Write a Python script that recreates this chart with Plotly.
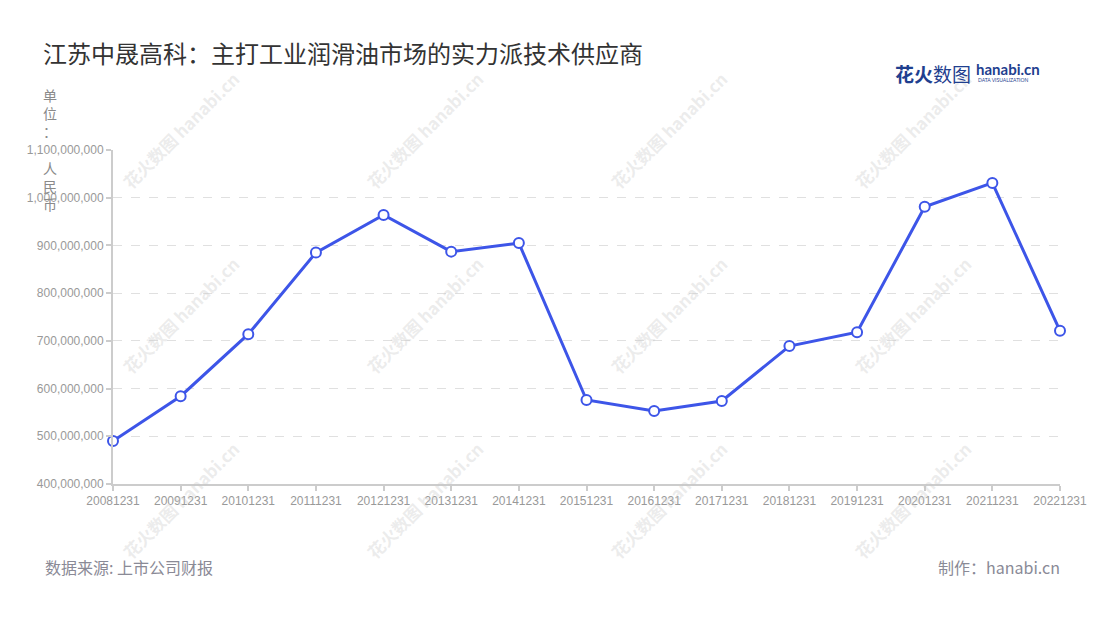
import plotly.graph_objects as go

title = "江苏中晟高科：主打工业润滑油市场的实力派技术供应商"
dates = ["20081231", "20091231", "20101231", "20111231", "20121231", "20131231",
         "20141231", "20151231", "20161231", "20171231", "20181231", "20191231",
         "20201231", "20211231", "20221231"]
values = [490e6, 584e6, 714e6, 885e6, 964e6, 887e6, 905e6, 576e6, 553e6, 574e6,
          689e6, 718e6, 981e6, 1031e6, 721e6]
y_ticks = [400e6, 500e6, 600e6, 700e6, 800e6, 900e6, 1000e6, 1100e6]
unit_label = "单<br>位<br>：<br><br>人<br>民<br>币"
source_text = "数据来源: 上市公司财报"
maker_text = "制作：hanabi.cn"

W, H = 1100, 620
L, R, T, B = 113, 40, 150, 136
FONT = "Noto Sans CJK SC"
BLUE = "#3d55e8"


def px(x):
    return (x - L) / (W - L - R)


def py(y):
    return (H - B - y) / (H - T - B)


fig = go.Figure()
fig.add_trace(go.Scatter(
    x=dates, y=values, mode="lines+markers",
    line=dict(color=BLUE, width=3),
    marker=dict(size=10, color="white", line=dict(color=BLUE, width=2)),
    hoverinfo="x+y", showlegend=False, cliponaxis=False,
))

ann = []
# watermarks
for cx in [180, 424, 668, 912]:
    for cy in [130, 315, 500]:
        ann.append(dict(
            x=px(cx), y=py(cy), xref="paper", yref="paper",
            text="<b>花火数图</b> <b>hanabi.cn</b>", showarrow=False, textangle=-45,
            font=dict(family=FONT, size=17, color="rgba(200,200,200,0.35)"),
            xanchor="center", yanchor="middle",
        ))

# unit label
ann.append(dict(x=px(50), y=py(83), xref="paper", yref="paper", text=unit_label,
                showarrow=False, xanchor="center", yanchor="top", align="center",
                font=dict(family=FONT, size=14, color="#8a8a8a")))
# footer
ann.append(dict(x=px(43), y=py(567), xref="paper", yref="paper", text=source_text,
                showarrow=False, xanchor="left", yanchor="middle",
                font=dict(family=FONT, size=16, color="#8a8a96")))
ann.append(dict(x=px(1062), y=py(567), xref="paper", yref="paper", text=maker_text,
                showarrow=False, xanchor="right", yanchor="middle",
                font=dict(family=FONT, size=16, color="#8a8a96")))
# logo
ann.append(dict(x=px(893), y=py(73), xref="paper", yref="paper",
                text="<b>花火</b>数图", showarrow=False, xanchor="left", yanchor="middle",
                font=dict(family=FONT, size=19, color="#1f3f8f")))
ann.append(dict(x=px(974), y=py(69), xref="paper", yref="paper",
                text="<b>hanabi.cn</b>", showarrow=False, xanchor="left", yanchor="middle",
                font=dict(family="Lato", size=15, color="#1f3f8f")))
ann.append(dict(x=px(976), y=py(80), xref="paper", yref="paper",
                text="DATA VISUALIZATION", showarrow=False, xanchor="left", yanchor="middle",
                font=dict(family="Lato", size=5, color="#1f3f8f")))

fig.update_layout(
    width=W, height=H,
    margin=dict(l=L, r=R, t=T, b=B),
    paper_bgcolor="white", plot_bgcolor="white",
    title=dict(text=title, x=43 / W, y=1 - 55 / H, xref="container", yref="container",
               xanchor="left", yanchor="middle",
               font=dict(family=FONT, size=24, color="#333333")),
    font=dict(family=FONT),
    annotations=ann,
    xaxis=dict(
        type="category", range=[0, len(dates) - 1],
        showline=True, linecolor="#cccccc", linewidth=2,
        ticks="outside", ticklen=5, tickcolor="#cccccc", tickwidth=1.5,
        showgrid=False, zeroline=False,
        tickfont=dict(family="Liberation Sans", size=12, color="#999999"),
    ),
    yaxis=dict(
        range=[400e6, 1100e6], tickvals=y_ticks, tickformat=",d",
        showline=True, linecolor="#cccccc", linewidth=2,
        ticks="outside", ticklen=5, tickcolor="#cccccc", tickwidth=1.5,
        showgrid=True, gridcolor="#e0e0e0", griddash="dash", gridwidth=1,
        zeroline=False,
        tickfont=dict(family="Liberation Sans", size=12, color="#999999"),
    ),
)

fig.write_html("out.html", config={"displayModeBar": False},
               post_script="document.body.style.margin='0px';")
